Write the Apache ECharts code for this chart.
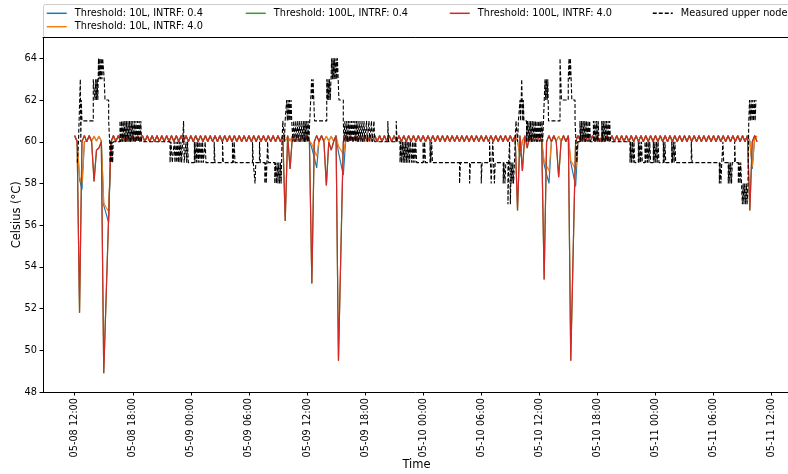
<!DOCTYPE html>
<html><head><meta charset="utf-8">
<script src="https://cdn.jsdelivr.net/npm/echarts@6/dist/echarts.min.js"></script>
<style>html,body{margin:0;padding:0;background:#fff}#c{width:788px;height:474px}</style>
</head><body><div id="c"></div>
<script>
// ---------- DATA ----------
const seriesNames = ['Threshold: 10L, INTRF: 0.4','Threshold: 10L, INTRF: 4.0','Threshold: 100L, INTRF: 0.4','Threshold: 100L, INTRF: 4.0','Measured upper node'];
// simulated series sampled every 15 min starting 05-08 12:00 (hours since 05-08 00:00)
const simStartHour = 12;
const simStepHours = 0.25;
const sim10L_04 = [
60.25,60.05,58.2,57.7,60.0,60.05,60.25,60.05,60.25,60.05,
60.25,60.05,56.95,56.55,56.13,60.0,60.25,60.05,60.25,60.05,
60.25,60.05,60.25,60.05,60.25,60.05,60.25,60.05,60.25,60.05,
60.25,60.05,60.25,60.05,60.25,60.05,60.25,60.05,60.25,60.05,
60.25,60.05,60.25,60.05,60.25,60.05,60.25,60.05,60.25,60.05,
60.25,60.05,60.25,60.05,60.25,60.05,60.25,60.05,60.25,60.05,
60.25,60.05,60.25,60.05,60.25,60.05,60.25,60.05,60.25,60.05,
60.25,60.05,60.25,60.05,60.25,60.05,60.25,60.05,60.25,60.05,
60.25,60.05,60.25,60.05,60.25,60.05,60.25,60.05,60.25,60.05,
60.25,60.05,60.25,60.05,60.25,60.05,60.25,60.05,59.7,59.25,
58.75,60.1,60.25,60.05,60.25,60.05,60.25,60.05,60.25,59.5,
58.95,58.4,60.1,60.05,60.25,60.05,60.25,60.05,60.25,60.05,
60.25,60.05,60.25,60.05,60.25,60.05,60.25,60.05,60.25,60.05,
60.25,60.05,60.25,60.05,60.25,60.05,60.25,60.05,60.25,60.05,
60.25,60.05,60.25,60.05,60.25,60.05,60.25,60.05,60.25,60.05,
60.25,60.05,60.25,60.05,60.25,60.05,60.25,60.05,60.25,60.05,
60.25,60.05,60.25,60.05,60.25,60.05,60.25,60.05,60.25,60.05,
60.25,60.05,60.25,60.05,60.25,60.05,60.25,60.05,60.25,60.05,
60.25,60.05,60.25,60.05,59.3,60.05,60.25,60.05,60.25,60.05,
60.25,60.05,60.25,60.05,58.9,58.45,58.0,60.0,60.25,60.05,
60.25,60.05,60.25,60.05,60.25,59.0,58.45,57.86,60.0,60.05,
60.25,60.05,60.25,60.05,60.25,60.05,60.25,60.05,60.25,60.05,
60.25,60.05,60.25,60.05,60.25,60.05,60.25,60.05,60.25,60.05,
60.25,60.05,60.25,60.05,60.25,60.05,60.25,60.05,60.25,60.05,
60.25,60.05,60.25,60.05,60.25,60.05,60.25,60.05,60.25,60.05,
60.25,60.05,60.25,60.05,60.25,60.05,60.25,60.05,60.25,60.05,
60.25,60.05,60.25,60.05,60.25,60.05,60.25,60.05,60.25,60.05,
60.25,60.05,60.25,60.05,60.25,60.05,60.25,60.05,60.25,60.05,
58.7,60.2,60.25];
const sim10L_40 = [
60.27,60.03,58.3,58.0,60.0,60.03,60.27,60.03,60.27,60.03,
60.27,60.03,57.06,56.85,56.66,60.0,60.27,60.03,60.27,60.03,
60.27,60.03,60.27,60.03,60.27,60.03,60.27,60.03,60.27,60.03,
60.27,60.03,60.27,60.03,60.27,60.03,60.27,60.03,60.27,60.03,
60.27,60.03,60.27,60.03,60.27,60.03,60.27,60.03,60.27,60.03,
60.27,60.03,60.27,60.03,60.27,60.03,60.27,60.03,60.27,60.03,
60.27,60.03,60.27,60.03,60.27,60.03,60.27,60.03,60.27,60.03,
60.27,60.03,60.27,60.03,60.27,60.03,60.27,60.03,60.27,60.03,
60.27,60.03,60.27,60.03,60.27,60.03,60.27,60.03,60.27,60.03,
60.27,60.03,60.27,60.03,60.27,60.03,60.27,60.03,59.9,59.6,
59.3,60.1,60.27,60.03,60.27,60.03,60.27,60.03,60.27,59.8,
59.6,59.4,60.1,60.03,60.27,60.03,60.27,60.03,60.27,60.03,
60.27,60.03,60.27,60.03,60.27,60.03,60.27,60.03,60.27,60.03,
60.27,60.03,60.27,60.03,60.27,60.03,60.27,60.03,60.27,60.03,
60.27,60.03,60.27,60.03,60.27,60.03,60.27,60.03,60.27,60.03,
60.27,60.03,60.27,60.03,60.27,60.03,60.27,60.03,60.27,60.03,
60.27,60.03,60.27,60.03,60.27,60.03,60.27,60.03,60.27,60.03,
60.27,60.03,60.27,60.03,60.27,60.03,60.27,60.03,60.27,60.03,
60.27,60.03,60.27,60.03,59.4,60.03,60.27,60.03,60.27,60.03,
60.27,60.03,60.27,60.03,59.1,58.85,58.6,60.0,60.27,60.03,
60.27,60.03,60.27,60.03,60.27,59.1,58.9,58.66,60.0,60.03,
60.27,60.03,60.27,60.03,60.27,60.03,60.27,60.03,60.27,60.03,
60.27,60.03,60.27,60.03,60.27,60.03,60.27,60.03,60.27,60.03,
60.27,60.03,60.27,60.03,60.27,60.03,60.27,60.03,60.27,60.03,
60.27,60.03,60.27,60.03,60.27,60.03,60.27,60.03,60.27,60.03,
60.27,60.03,60.27,60.03,60.27,60.03,60.27,60.03,60.27,60.03,
60.27,60.03,60.27,60.03,60.27,60.03,60.27,60.03,60.27,60.03,
60.27,60.03,60.27,60.03,60.27,60.03,60.27,60.03,60.27,60.03,
58.8,60.2,60.27];
const sim100L_40 = [
60.3,60,51.8,60,60.3,60,60.3,60,58.1,59.6,
59.7,60,48.9,null,null,60,60.3,60,60.3,60,
60.3,60,60.3,60,60.3,60,60.3,60,60.3,60,
60.3,60,60.3,60,60.3,60,60.3,60,60.3,60,
60.3,60,60.3,60,60.3,60,60.3,60,60.3,60,
60.3,60,60.3,60,60.3,60,60.3,60,60.3,60,
60.3,60,60.3,60,60.3,60,60.3,60,60.3,60,
60.3,60,60.3,60,60.3,60,60.3,60,60.3,60,
60.3,60,60.3,60,60.3,60,60.3,56.2,60.3,58.7,
60.3,60,60.3,60,60.3,60,60.3,60,53.2,60,
60.3,60,60.3,60,57.9,60,59.6,60,60.3,49.5,
null,60,60.3,60,60.3,60,60.3,60,60.3,60,
60.3,60,60.3,60,60.3,60,60.3,60,60.3,60,
60.3,60,60.3,60,60.3,60,60.3,60,60.3,60,
60.3,60,60.3,60,60.3,60,60.3,60,60.3,60,
60.3,60,60.3,60,60.3,60,60.3,60,60.3,60,
60.3,60,60.3,60,60.3,60,60.3,60,60.3,60,
60.3,60,60.3,60,60.3,60,60.3,60,60.3,60,
60.3,60,60.3,56.7,60.3,58.6,60.3,59.7,60.3,60,
60.3,60,60.3,60,53.4,60,60.3,60,60.3,60,
58.3,60,60.3,60,60.3,49.5,null,60,60.3,60,
60.3,60,60.3,60,60.3,60,60.3,60,60.3,60,
60.3,60,60.3,60,60.3,60,60.3,60,60.3,60,
60.3,60,60.3,60,60.3,60,60.3,60,60.3,60,
60.3,60,60.3,60,60.3,60,60.3,60,60.3,60,
60.3,60,60.3,60,60.3,60,60.3,60,60.3,60,
60.3,60,60.3,60,60.3,60,60.3,60,60.3,60,
60.3,60,60.3,60,60.3,60,60.3,60,60.3,56.7,
60,60.3,60];
// 100L / INTRF 0.4 reads identical to 100L / INTRF 4.0 (fully hidden beneath it)
const sim100L_04 = sim100L_40.slice();
// measured upper node: [hours since 05-08 00:00, temperature] at each change
const measuredUpperNode = [
[12.27,59],[12.39,60],[12.58,63],[12.63,60],[12.68,62],[12.75,61],[13.92,63],[14.10,62],[14.17,63],[14.24,62],
[14.31,63],[14.39,62],[14.46,64],[14.53,63],[14.60,64],[14.68,63],[14.75,64],[14.82,63],[14.89,64],[15.05,63],
[15.13,62],[15.51,61],[15.61,60],[15.65,59],[15.72,60],[15.78,59],[15.85,60],[15.92,59],[15.98,60],
[16.68,61],[16.76,60],[16.85,61],[16.93,60],[17.01,61],[17.09,60],[17.18,61],[17.26,60],[17.34,61],[17.42,60],
[17.51,61],[17.59,60],[17.67,61],[17.75,60],[17.84,61],[17.92,60],[18.00,61],[18.08,60],[18.17,61],[18.25,60],
[18.33,61],[18.42,60],[18.50,61],[18.58,60],[18.66,61],[18.75,60],[18.83,61],[18.91,60],
[21.85,59],[21.95,60],[22.08,59],[22.28,60],[22.36,59],[22.47,60],[22.54,59],[22.63,60],[22.71,59],[22.80,60],
[22.88,59],[22.97,60],[23.05,59],[23.25,61],[23.31,59],[23.50,60],[23.57,59],[23.66,60],[23.74,59],
[24.36,60],[24.43,59],[24.53,60],[24.60,59],[24.70,60],[24.77,59],[24.86,60],[24.94,59],[25.05,60],[25.12,59],
[25.21,60],[25.29,59],[25.48,60],[25.56,59],[26.41,60],[26.49,59],[27.27,60],[27.35,59],[28.30,60],[28.39,59],
[28.48,60],[28.56,59],[30.37,60],[30.45,59],[30.63,58],[30.71,59],[31.09,60],[31.18,59],[31.64,58],[31.72,59],
[31.79,58],[31.86,59],[31.93,60],[32.01,59],[32.67,58],[32.75,59],[32.84,58],[32.92,59],[33.00,58],[33.08,59],
[33.17,58],[33.25,59],[33.33,58],[33.42,60],[33.50,61],[33.67,60],[33.74,61],[33.90,62],[33.97,61],[34.05,62],
[34.12,61],[34.19,62],[34.26,61],[34.35,62],[34.42,61],[34.55,60],[34.63,61],[34.76,60],[34.84,61],[34.96,60],
[35.05,61],[35.17,60],[35.25,61],[35.38,60],[35.46,61],[35.58,60],[35.66,61],[35.74,60],[35.81,61],[35.89,60],
[35.97,61],[36.05,60],[36.12,61],[36.20,60],[36.28,61],[36.48,63],[36.56,62],[36.63,63],[36.70,62],[36.78,61],
[38.04,63],[38.11,62],[38.18,63],[38.25,62],[38.32,63],[38.40,62],[38.48,63],[38.55,64],[38.62,63],[38.70,64],
[38.77,63],[38.84,64],[38.91,63],[39.00,64],[39.07,63],[39.14,64],[39.22,63],[39.30,62],[39.75,61],[39.82,60],
[39.92,61],[40.03,60],[40.11,61],[40.19,60],[40.28,61],[40.36,60],[40.44,61],[40.52,60],[40.61,61],[40.69,60],
[40.77,61],[40.85,60],[40.94,61],[41.02,60],[41.10,61],[41.18,60],[41.27,61],[41.35,60],[41.47,61],[41.56,60],
[41.68,61],[41.76,60],[41.89,61],[41.97,60],[42.15,61],[42.23,60],[42.40,61],[42.49,60],[42.66,61],[42.74,60],
[42.92,61],[43.00,60],[44.35,61],[44.43,60],[45.22,61],[45.30,60],[45.61,59],[45.69,60],[45.77,59],[45.86,60],
[45.94,59],[46.02,60],[46.10,59],[46.19,60],[46.27,59],[46.35,60],[46.43,59],[46.52,60],[46.60,59],[46.68,60],
[46.82,59],[46.90,60],[46.98,59],[47.07,60],[47.15,59],[47.23,60],[47.33,59],[47.99,60],[48.07,59],[48.15,60],
[48.24,59],[48.71,60],[48.79,59],[48.88,60],[48.96,59],[51.76,58],[51.85,59],[52.80,58],[52.88,59],[54.00,58],
[54.09,59],[54.86,60],[54.95,59],[55.03,58],[55.11,59],[55.19,60],[55.28,59],[55.36,58],[55.44,59],[56.27,58],
[56.35,59],[56.45,58],[56.54,59],[56.76,57],[56.84,59],[56.93,60],[57.01,57],[57.09,59],[57.18,58],[57.26,59],
[57.34,58],[57.43,59],[57.51,60],[57.59,61],[57.76,60],[57.84,61],[58.01,62],[58.07,61],[58.13,62],[58.18,63],
[58.23,62],[58.29,61],[58.35,62],[58.41,61],[58.68,60],[58.77,61],[58.85,60],[58.94,61],[59.02,60],[59.10,61],
[59.18,60],[59.27,61],[59.35,60],[59.44,61],[59.52,60],[59.60,61],[59.69,60],[59.77,61],[59.85,60],[59.94,61],
[60.02,60],[60.10,61],[60.18,60],[60.27,61],[60.35,60],[60.43,61],[60.59,63],[60.66,62],[60.73,63],[60.81,62],
[60.88,63],[60.95,61],[62.14,64],[62.29,62],[62.99,63],[63.07,64],[63.14,63],[63.21,64],[63.29,63],[63.36,62],
[63.69,61],[63.79,60],[63.88,59],[63.96,60],[64.20,61],[64.28,60],[64.37,61],[64.45,60],[64.53,61],[64.62,60],
[64.70,61],[64.78,60],[64.86,61],[64.95,60],[65.03,61],[65.11,60],[65.20,61],[65.28,60],[65.59,61],[65.67,60],
[65.75,61],[65.84,60],[65.92,61],[66.00,60],[66.08,61],[66.17,60],[66.45,61],[66.53,60],[66.61,61],[66.69,60],
[66.78,61],[66.86,60],[66.94,61],[67.03,60],[67.11,61],[67.19,60],[67.27,61],[67.36,60],[69.37,59],[69.45,60],
[69.53,59],[69.62,60],[69.70,59],[69.78,60],[69.86,59],[70.23,60],[70.31,59],[70.39,60],[70.47,59],[70.56,60],
[70.64,59],[70.92,60],[71.00,59],[71.08,60],[71.17,59],[71.25,60],[71.33,59],[71.41,60],[71.50,59],[71.78,60],
[71.86,59],[71.94,60],[72.03,59],[72.11,60],[72.19,59],[72.27,60],[72.36,59],[72.81,60],[72.90,59],[72.98,60],
[73.06,59],[73.68,60],[73.76,59],[73.85,60],[73.93,59],[74.01,60],[74.09,59],[75.70,60],[75.79,59],[78.60,58],
[78.68,59],[78.76,58],[78.85,59],[78.97,60],[79.05,59],[79.52,58],[79.61,59],[79.69,58],[79.77,59],[79.86,58],
[79.94,59],[80.18,60],[80.26,59],[80.56,58],[80.65,59],[80.73,58],[80.81,59],[80.89,58],[80.98,57],[81.06,58],
[81.14,57],[81.22,58],[81.31,57],[81.39,58],[81.47,57],[81.56,58],[81.64,61],[81.72,62],[81.80,61],[81.89,62],
[81.97,61],[82.05,62],[82.13,61],[82.22,62],[82.30,61],[82.38,62],[82.45,62]];
const xTickHours = [12,18,24,30,36,42,48,54,60,66,72,78,84];
const xTickLabels = ['05-08 12:00','05-08 18:00','05-09 00:00','05-09 06:00','05-09 12:00','05-09 18:00','05-10 00:00','05-10 06:00','05-10 12:00','05-10 18:00','05-11 00:00','05-11 06:00','05-11 12:00'];
const yTicks = [48,50,52,54,56,58,60,62,64];

// ---------- CHART ----------
const colors = ['#1f77b4','#ff7f0e','#2ca02c','#d62728','#000000'];
const simHours = sim10L_04.map((_, i) => simStartHour + i * simStepHours);
const toPairs = vals => vals.map((v, i) => [simHours[i], v]);
const simSets = [sim10L_04, sim10L_40, sim100L_04, sim100L_40];
const FS = 9.75;
const NFS = 11.5;
const legendPos = [[46,7.3],[46,20.7],[245,7.3],[449,7.3],[652,7.3]];

const chart = echarts.init(document.getElementById('c'), null, {renderer:'canvas'});
const series = simSets.map((vals, k) => ({
  name: seriesNames[k], type:'line', data: toPairs(vals), symbol:'none', connectNulls:true,
  lineStyle:{color:colors[k], width:1.2}, itemStyle:{color:colors[k]}, z: 2 + k
}));
series.push({
  name: seriesNames[4], type:'line', data: measuredUpperNode, step:'end', symbol:'none',
  lineStyle:{color:'#000', width:1.1, type:[4,2]}, itemStyle:{color:'#000'}, z: 10
});

chart.setOption({
  animation:false,
  textStyle:{fontFamily:'DejaVu Sans'},
  grid:{left:43, top:37.5, width:747, height:354.5, show:false,
        outerBoundsMode:'none', containLabel:false},
  graphic:[{type:'rect', silent:true, z:0, shape:{x:43.5, y:4.5, width:760, height:33, r:2},
            style:{fill:'#fff', stroke:'#cccccc', lineWidth:1}}],
  legend: seriesNames.map((n, k) => ({
    data:[n], left:legendPos[k][0], top:legendPos[k][1], padding:0, itemGap:0,
    itemWidth:20, itemHeight:12, selectedMode:false,
    itemStyle:{opacity:0},
    lineStyle:{width:1.5},
    textStyle:{fontSize:FS, color:'#000', padding:[0,0,0,3], lineHeight:12, fontFamily:'DejaVu Sans'}
  })),
  xAxis:[{
    type:'value', min:8.725, max:85.9,
    name:'Time', nameLocation:'middle', nameGap:67, nameMoveOverlap:false,
    nameTextStyle:{fontSize:NFS, color:'#000'},
    axisLine:{show:true, onZero:false, lineStyle:{color:'#000', width:1}},
    axisTick:{show:true, length:3.5, customValues:xTickHours, lineStyle:{color:'#000'}},
    axisLabel:{customValues:xTickHours, rotate:90, fontSize:FS, color:'#000', margin:6,
      formatter: v => xTickLabels[xTickHours.indexOf(v)] || ''},
    splitLine:{show:false}
  },{
    type:'value', position:'top', min:8.725, max:85.9,
    axisLine:{show:true, onZero:false, lineStyle:{color:'#000', width:1}},
    axisTick:{show:false}, axisLabel:{show:false}, splitLine:{show:false}
  }],
  yAxis:{
    type:'value', min:48, max:65,
    name:'Celsius (°C)', nameLocation:'middle', nameGap:20, nameMoveOverlap:false,
    nameTextStyle:{fontSize:NFS, color:'#000'},
    axisLine:{show:true, lineStyle:{color:'#000', width:1}},
    axisTick:{show:true, length:3.5, customValues:yTicks, lineStyle:{color:'#000'}},
    axisLabel:{customValues:yTicks, fontSize:FS, color:'#000', margin:6},
    splitLine:{show:false}
  },
  series: series
});
</script></body></html>
